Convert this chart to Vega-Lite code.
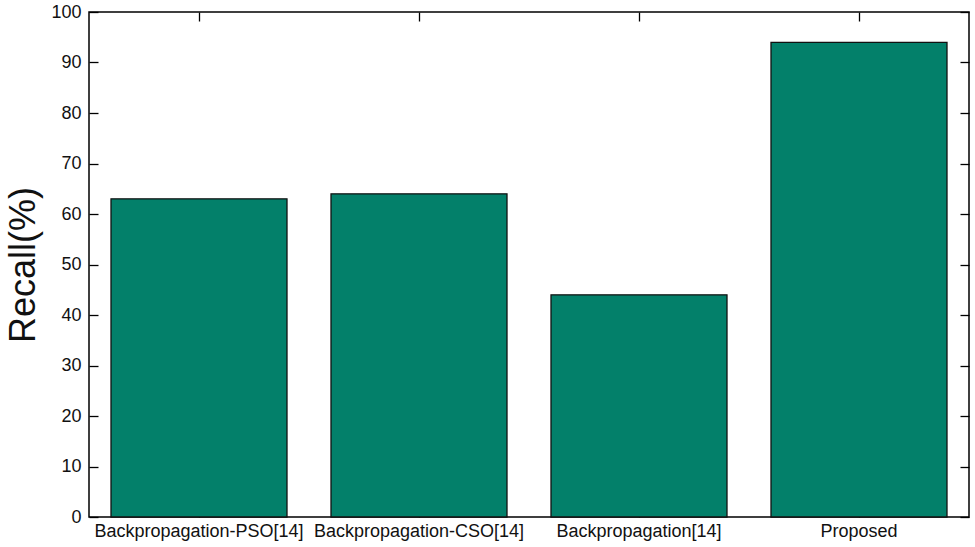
{
  "$schema": "https://vega.github.io/schema/vega-lite/v6.json",
  "width": 880,
  "height": 505,
  "autosize": {"type": "none"},
  "padding": {"left": 89, "top": 12, "right": 6, "bottom": 30},
  "background": "#ffffff",
  "config": {
    "font": "Liberation Sans",
    "view": {"stroke": "#000000", "strokeWidth": 1.5},
    "axis": {
      "domain": false,
      "grid": false,
      "tickColor": "#000000",
      "tickWidth": 1.3,
      "tickSize": -9,
      "labelColor": "#111111",
      "labelFont": "Liberation Sans",
      "labelFontSize": 17
    }
  },
  "data": {
    "values": [
      {"method": "Backpropagation-PSO[14]", "recall": 63},
      {"method": "Backpropagation-CSO[14]", "recall": 64},
      {"method": "Backpropagation[14]", "recall": 44},
      {"method": "Proposed", "recall": 94}
    ]
  },
  "layer": [
    {
      "mark": {"type": "bar", "color": "#03806A", "stroke": "#111111", "strokeWidth": 1.3},
      "encoding": {
        "x": {
          "field": "method", "type": "nominal", "sort": null,
          "scale": {"paddingInner": 0.2, "paddingOuter": 0.1},
          "axis": {"orient": "bottom", "title": null, "labelAngle": 0, "labelPadding": 14, "labelFontSize": 18, "labelLimit": 400}
        },
        "y": {
          "field": "recall", "type": "quantitative",
          "scale": {"domain": [0, 100], "nice": false},
          "axis": {"orient": "left", "title": "Recall(%)", "values": [0,10,20,30,40,50,60,70,80,90,100], "labelPadding": 17, "labelFontSize": 18, "titleFontSize": 36, "titleFontWeight": "normal", "titleColor": "#111111", "titlePadding": 8, "titleFont": "Liberation Sans"}
        }
      }
    },
    {
      "mark": {"type": "bar", "opacity": 0},
      "encoding": {
        "x": {
          "field": "method", "type": "nominal", "sort": null,
          "axis": {"orient": "top", "title": null, "labels": false}
        },
        "y": {
          "field": "recall", "type": "quantitative",
          "axis": {"orient": "right", "title": null, "labels": false, "values": [0,10,20,30,40,50,60,70,80,90,100]}
        }
      }
    }
  ],
  "resolve": {"axis": {"x": "independent", "y": "independent"}}
}
